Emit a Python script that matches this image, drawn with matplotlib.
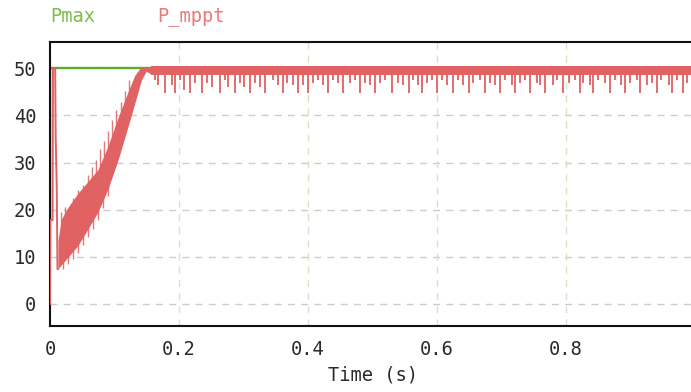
import numpy as np
import matplotlib
matplotlib.use("Agg")
import matplotlib.pyplot as plt

# ---------------- data ----------------
# Pmax (green)
pmax_t = [0.0, 0.0, 0.0004, 0.0004, 1.0]
pmax_v = [18.5, 35.5, 35.5, 50.0, 50.0]

# P_mppt start-up segment
start_t = [0.0, 0.0006, 0.0040, 0.0046, 0.0080, 0.0088, 0.0104, 0.0116, 0.0124]
start_v = [0.0, 17.8, 17.8, 50.0, 50.0, 35.5, 25.2, 7.4, 7.4]

# P_mppt oscillation band during the ramp (core envelope)
ramp_t = [0.0124, 0.0176, 0.0279, 0.0434, 0.0589, 0.0744, 0.0899, 0.1054, 0.1209,
          0.1313, 0.1416, 0.1493, 0.1566]
ramp_low = [7.4, 8.3, 9.9, 12.4, 15.9, 19.5, 24.4, 30.5, 37.6, 42.5, 47.5, 49.4, 48.8]
ramp_high = [13.5, 18.0, 20.5, 23.5, 26.0, 28.5, 33.5, 39.5, 45.0, 48.5, 50.4, 50.4, 50.4]

# upward spikes during the ramp (time, peak)
spike_up_t = [0.0176, 0.0238, 0.0357, 0.0434, 0.0512, 0.0589, 0.0656, 0.0708, 0.0770,
              0.0837, 0.0899, 0.0966, 0.1028, 0.1096, 0.1158, 0.1220]
spike_up_v = [19.6, 20.5, 22.5, 24.2, 25.2, 27.4, 29.1, 30.6, 32.8,
              34.5, 36.6, 39.1, 41.2, 42.8, 45.1, 47.5]
spike_up_base = [15.0, 17.0, 20.0, 22.0, 23.0, 24.0, 25.0, 26.0, 27.0,
                 28.0, 30.0, 32.0, 34.0, 36.0, 40.0, 44.0]

# downward spikes during the ramp (time, bottom)
spike_dn_t = [0.0202, 0.0279, 0.0357, 0.0434, 0.0512, 0.0589, 0.0667, 0.0744, 0.0822, 0.0899]
spike_dn_v = [7.5, 8.4, 9.6, 10.9, 12.4, 14.1, 15.9, 17.9, 20.3, 23.0]
spike_dn_top = [12.0, 14.0, 16.0, 18.0, 20.0, 22.0, 24.0, 26.0, 28.0, 30.0]

# steady state band and its dips
steady_t = [0.1566, 1.0]
steady_low = [48.6, 48.6]
steady_high = [50.4, 50.4]

dip_t = [0.1628, 0.168, 0.178, 0.189, 0.194, 0.2016, 0.207, 0.217, 0.225, 0.235, 0.243, 0.251,
         0.264, 0.271, 0.276, 0.287, 0.295, 0.300, 0.310, 0.318, 0.326, 0.333,
         0.346, 0.354, 0.362, 0.367, 0.377, 0.385, 0.393, 0.400, 0.408, 0.416, 0.424, 0.431,
         0.439, 0.447, 0.455, 0.465, 0.473, 0.481, 0.488, 0.496, 0.504, 0.512, 0.519, 0.530, 0.540,
         0.548, 0.556, 0.563, 0.571, 0.576, 0.584, 0.592, 0.600, 0.607, 0.615, 0.625, 0.633,
         0.641, 0.649, 0.656, 0.667, 0.674, 0.682, 0.690, 0.698, 0.705, 0.716, 0.721, 0.729,
         0.736, 0.744, 0.755, 0.760, 0.767,
         0.780, 0.786, 0.796, 0.804, 0.814, 0.822, 0.827, 0.837, 0.842, 0.850, 0.860, 0.868,
         0.876, 0.886, 0.891, 0.899, 0.910, 0.915, 0.925, 0.933, 0.941, 0.948, 0.959, 0.964,
         0.972, 0.982, 0.987]
dip_v = [47.6, 46.5, 44.7, 46.5, 44.7, 47.6, 45.4, 44.7, 46.8, 44.7, 46.8, 46.1,
         44.7, 47.6, 46.1, 44.7, 46.8, 46.1, 44.7, 46.8, 46.1, 44.7,
         47.6, 46.5, 44.7, 46.8, 46.5, 44.7, 46.5, 44.7, 46.8, 47.6, 46.5, 44.7,
         47.6, 46.8, 44.7, 46.8, 47.6, 44.7, 46.8, 46.5, 44.7, 46.8, 47.6, 44.7, 46.8,
         46.5, 44.7, 47.6, 46.5, 44.7, 46.8, 47.6, 44.7, 47.6, 46.5, 44.7, 47.6,
         46.5, 44.7, 46.8, 47.6, 44.7, 46.8, 46.5, 44.7, 47.6, 46.5, 44.7, 46.8,
         47.6, 44.7, 46.8, 46.5, 44.7,
         46.5, 47.6, 44.7, 46.8, 47.6, 44.7, 46.8, 46.5, 44.7, 47.6, 46.8, 44.7,
         47.6, 46.5, 44.7, 46.8, 47.6, 44.7, 46.5, 46.8, 44.7, 47.6, 46.5, 44.7,
         47.6, 44.7, 46.8]

x_ticks = [0, 0.2, 0.4, 0.6, 0.8, 1.0]
x_ticklabels = ["0", "0.2", "0.4", "0.6", "0.8", "1"]
y_ticks = [0, 10, 20, 30, 40, 50]
y_ticklabels = ["0", "10", "20", "30", "40", "50"]

# ---------------- styling ----------------
RED = "#e06262"
GREEN = "#5fab2c"
FONT = "DejaVu Sans Mono"
FS = 13.5
plt.rcParams["font.family"] = FONT

fig = plt.figure(figsize=(6.91, 3.92), dpi=100)
ax = fig.add_axes([50 / 691, 1 - 326 / 392, 645 / 691, 284 / 392])
ax.set_xlim(0, 1.0)
ax.set_ylim(-4.7, 55.6)

# grid
for y in y_ticks:
    ax.axhline(y, color="#cccccc", lw=1.0, ls=(0, (5, 4.5)), zorder=0)
for x in x_ticks:
    ax.axvline(x, color="#d3e6c4", lw=1.0, ls=(0, (5, 4.5)), zorder=0)

# Pmax
ax.plot(pmax_t, pmax_v, color=GREEN, lw=1.7, zorder=2, solid_joinstyle="miter")

# P_mppt
ax.plot(start_t, start_v, color=RED, lw=1.4, zorder=3)
ax.fill_between(ramp_t, ramp_low, ramp_high, color=RED, lw=0, zorder=3)
ax.vlines(spike_up_t, spike_up_base, spike_up_v, color=RED, lw=1.0, alpha=0.85, zorder=3)
ax.vlines(spike_dn_t, spike_dn_v, spike_dn_top, color=RED, lw=1.0, alpha=0.85, zorder=3)
ax.fill_between(steady_t, steady_low, steady_high, color=RED, lw=0, zorder=3)
ax.vlines(dip_t, [48.8] * len(dip_t), dip_v, color=RED, lw=1.3, zorder=3)

# axes styling
for side in ["left", "bottom", "top", "right"]:
    ax.spines[side].set_color("#111111")
    ax.spines[side].set_linewidth(1.5)
ax.set_xticks(x_ticks)
ax.set_xticklabels(x_ticklabels)
ax.set_yticks(y_ticks)
ax.set_yticklabels(y_ticklabels)
ax.tick_params(length=0, labelsize=FS, colors="#2a2a2a")
ax.tick_params(axis="y", pad=10)
ax.tick_params(axis="x", pad=10)
ax.set_xlabel("Time (s)", fontsize=FS, color="#2a2a2a", labelpad=5)

# legend as text
fig.text(50 / 691, 1 - 17 / 392, "Pmax", color="#7cbf4a", fontsize=FS, ha="left", va="center")
fig.text(157 / 691, 1 - 17 / 392, "P_mppt", color="#ec7878", fontsize=FS, ha="left", va="center")

fig.savefig("out.png", dpi=100)
